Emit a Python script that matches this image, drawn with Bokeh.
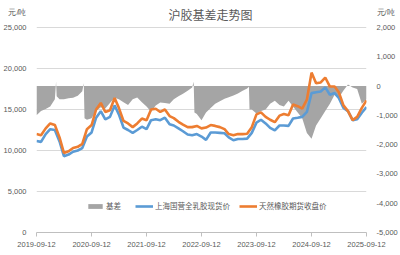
import pandas as pd
from bokeh.plotting import figure
from bokeh.models import (LinearAxis, Range1d, FixedTicker, NumeralTickFormatter,
                          DatetimeTickFormatter, Legend, LegendItem, Label)
from bokeh.embed import file_html
from bokeh.resources import INLINE

# ---------------- data ----------------
line_dates = pd.date_range("2019-09-12", periods=73, freq=pd.DateOffset(months=1))

futures = [12000, 11850, 12700, 13300, 13100, 11600, 9700, 9900, 10300, 10450, 10800, 12600,
           13100, 15000, 15800, 14700, 14900, 16400, 15200, 13600, 13300, 12850, 13300, 13900,
           13700, 15000, 15100, 14700, 15000, 14200, 13950, 13500, 13150, 12850, 12850, 13000,
           12700, 12800, 13100, 13000, 12850, 12600, 12000, 11850, 12000, 12000, 12050, 12850,
           14400, 14650, 14100, 13750, 13450, 14250, 14450, 14300, 15600, 15400, 15100, 16200,
           19500, 18200, 18300, 18900, 17800, 17800, 17100, 15500, 14800, 13700, 14100, 15200,
           16100]

spot = [11150, 11050, 12000, 12600, 12500, 11100, 9300, 9500, 9850, 10000, 10300, 11700,
        12200, 14000, 14800, 13800, 14100, 15500, 14400, 12800, 12500, 12150, 12500, 12900,
        12600, 13700, 13800, 13700, 14000, 13200, 13050, 12700, 12350, 11950, 11850, 12000,
        11700, 11300, 12200, 12200, 12150, 12100, 11600, 11250, 11400, 11400, 11450, 12150,
        13400, 13750, 13300, 12750, 12450, 13050, 13050, 13000, 13900, 14000, 14100, 14700,
        17000, 17100, 17200, 17700, 16800, 17000, 16400, 15200, 14800, 13700, 13800, 14600,
        15300]

basis_dates = ["2019-09-12", "2019-10-12", "2019-11-12", "2019-12-12", "2020-01-12", "2020-01-20",
               "2020-01-24", "2020-02-12", "2020-03-12", "2020-04-12", "2020-05-12", "2020-06-12",
               "2020-07-12", "2020-07-22", "2020-07-27", "2020-08-12", "2020-09-12", "2020-10-12",
               "2020-11-12", "2020-12-12", "2021-01-12", "2021-02-12", "2021-03-12", "2021-04-12",
               "2021-05-12", "2021-06-12", "2021-07-12", "2021-08-12", "2021-09-12", "2021-10-12",
               "2021-11-12", "2021-12-12", "2022-01-12", "2022-02-12", "2022-03-12", "2022-04-12",
               "2022-05-12", "2022-06-12", "2022-07-12", "2022-07-22", "2022-07-27", "2022-08-12",
               "2022-09-12", "2022-10-12", "2022-11-12", "2022-12-12", "2023-01-12", "2023-02-12",
               "2023-03-12", "2023-04-12", "2023-05-12", "2023-06-12", "2023-07-12", "2023-07-24",
               "2023-07-28", "2023-08-12", "2023-09-12", "2023-10-12", "2023-11-12", "2023-12-12",
               "2024-01-12", "2024-02-12", "2024-03-12", "2024-04-12", "2024-05-12", "2024-06-12",
               "2024-07-12", "2024-08-12", "2024-09-12", "2024-10-12", "2024-11-12", "2024-12-12",
               "2025-01-12", "2025-02-12", "2025-03-12", "2025-04-12", "2025-05-12", "2025-06-12",
               "2025-07-12", "2025-08-12", "2025-09-12"]

basis = [-1000, -850, -780, -700, -450, 150,
         -350, -450, -450, -420, -400, -330,
         -180, 100, -1100, -1150, -1100, -850,
         -720, -770, -580, -400, -450, -550,
         -650, -450, -390, -550, -700, -880,
         -660, -560, -580, -600, -450, -350,
         -260, -160, -50, 150, -900, -950,
         -1170, -900, -750, -600, -520, -430,
         -380, -320, -250, -160, -80, -20,
         -800, -800, -940, -850, -800, -600,
         -500, -650, -700, -500, -700, -900,
         -1100, -1600, -1800, -1350, -1100, -850,
         -600, -300, -400, -150, 50, -50,
         -100, -600, -450]

tick_labels = ["2019-09-12", "2020-09-12", "2021-09-12", "2022-09-12",
               "2023-09-12", "2024-09-12", "2025-09-12"]
left_ticks = [0, 5000, 10000, 15000, 20000, 25000]
right_ticks = [-5000, -4000, -3000, -2000, -1000, 0, 1000, 2000]

title_text = "沪胶基差走势图"
unit_text = "元/吨"
names = ["基差", "上海国营全乳胶现货价", "天然橡胶期货收盘价"]

# ---------------- layout constants (pixels) ----------------
W, H = 400, 255
FRAME_L, FRAME_R, FRAME_B = 30, 367, 232
TOP_GRID_Y = 27          # canvas y of the top gridline
UNIT_Y = 12              # canvas y of the unit labels
TITLE_Y = 14

left_lo, left_hi = left_ticks[0], left_ticks[-1]
right_lo, right_hi = right_ticks[0], right_ticks[-1]
lpp = (left_hi - left_lo) / (FRAME_B - TOP_GRID_Y)     # value per px, left
rpp = (right_hi - right_lo) / (FRAME_B - TOP_GRID_Y)   # value per px, right
left_top = left_hi + TOP_GRID_Y * lpp
right_top = right_hi + TOP_GRID_Y * rpp
left_unit_pos = left_hi + (TOP_GRID_Y - UNIT_Y) * lpp
right_unit_pos = right_hi + (TOP_GRID_Y - UNIT_Y) * rpp

# ---------------- figure ----------------
bd = pd.to_datetime(basis_dates)
tick_ms = [pd.Timestamp(t).value / 1e6 for t in tick_labels]

p = figure(width=W, height=H, output_backend="svg", toolbar_location=None,
           x_axis_type="datetime",
           x_range=Range1d(pd.Timestamp(tick_labels[0]), pd.Timestamp(tick_labels[-1])),
           y_range=Range1d(left_lo, left_top),
           min_border_left=FRAME_L, min_border_right=W - FRAME_R, min_border_top=0,
           min_border_bottom=H - FRAME_B)
p.extra_y_ranges = {"basis": Range1d(right_lo, right_top)}
p.outline_line_color = None
p.background_fill_color = "white"
p.border_fill_color = "white"

CN = "Noto Sans CJK SC"
NUM = "Liberation Sans"
TXT = "#595959"

r_basis = p.varea(x=bd, y1=0, y2=basis, y_range_name="basis", fill_color="#a5a5a5")
r_spot = p.line(x=line_dates, y=spot, line_color="#5b9bd5", line_width=2.6)
r_fut = p.line(x=line_dates, y=futures, line_color="#ed7d31", line_width=2.6)

# axes
xa = p.xaxis[0]
xa.ticker = FixedTicker(ticks=tick_ms)
xa.formatter = DatetimeTickFormatter(days="%Y-%m-%d", months="%Y-%m-%d", years="%Y-%m-%d")
xa.axis_line_color = "#bfbfbf"
xa.major_tick_line_color = "#bfbfbf"
xa.major_tick_out = 4
xa.major_tick_in = 0
xa.minor_tick_line_color = None
xa.major_label_text_font = NUM
xa.major_label_text_font_size = "7.5px"
xa.major_label_text_color = TXT
xa.major_label_standoff = 5

ya = p.yaxis[0]
ya.ticker = FixedTicker(ticks=left_ticks + [left_unit_pos])
ya.formatter = NumeralTickFormatter(format="0,0")
ya.major_label_overrides = {left_unit_pos: unit_text}
ya.axis_line_color = None
ya.major_tick_line_color = None
ya.minor_tick_line_color = None
ya.major_label_text_font = NUM
ya.major_label_text_font_size = "7.5px"
ya.major_label_text_color = TXT
ya.major_label_standoff = 4

ra = LinearAxis(y_range_name="basis", ticker=FixedTicker(ticks=right_ticks + [right_unit_pos]),
                formatter=NumeralTickFormatter(format="0,0"))
ra.major_label_overrides = {right_unit_pos: unit_text}
ra.axis_line_color = None
ra.major_tick_line_color = None
ra.minor_tick_line_color = None
ra.major_label_text_font = NUM
ra.major_label_text_font_size = "7.5px"
ra.major_label_text_color = TXT
ra.major_label_standoff = 4
p.add_layout(ra, "right")

p.xgrid.grid_line_color = None
p.ygrid.ticker = FixedTicker(ticks=left_ticks)
p.ygrid.grid_line_color = "#d9d9d9"
p.ygrid.grid_line_width = 1

# title (inside the frame area, screen units measured from frame bottom-left)
p.add_layout(Label(x=(W / 2 + 4) - FRAME_L, y=FRAME_B - TITLE_Y, x_units="screen", y_units="screen",
                   text=title_text, text_align="center", text_baseline="middle", text_font=CN,
                   text_font_size="12px", text_color=TXT))

legend = Legend(items=[LegendItem(label=names[0], renderers=[r_basis]),
                       LegendItem(label=names[1], renderers=[r_spot]),
                       LegendItem(label=names[2], renderers=[r_fut])],
                orientation="horizontal", location=(50, 21),
                glyph_width=18, glyph_height=6, label_height=10,
                label_text_font=CN, label_text_font_size="7.5px", label_text_color=TXT,
                label_standoff=2, spacing=9, padding=0, margin=0,
                border_line_color=None, background_fill_alpha=0)
p.add_layout(legend, "center")

open("out.html", "w").write(file_html(p, INLINE))
